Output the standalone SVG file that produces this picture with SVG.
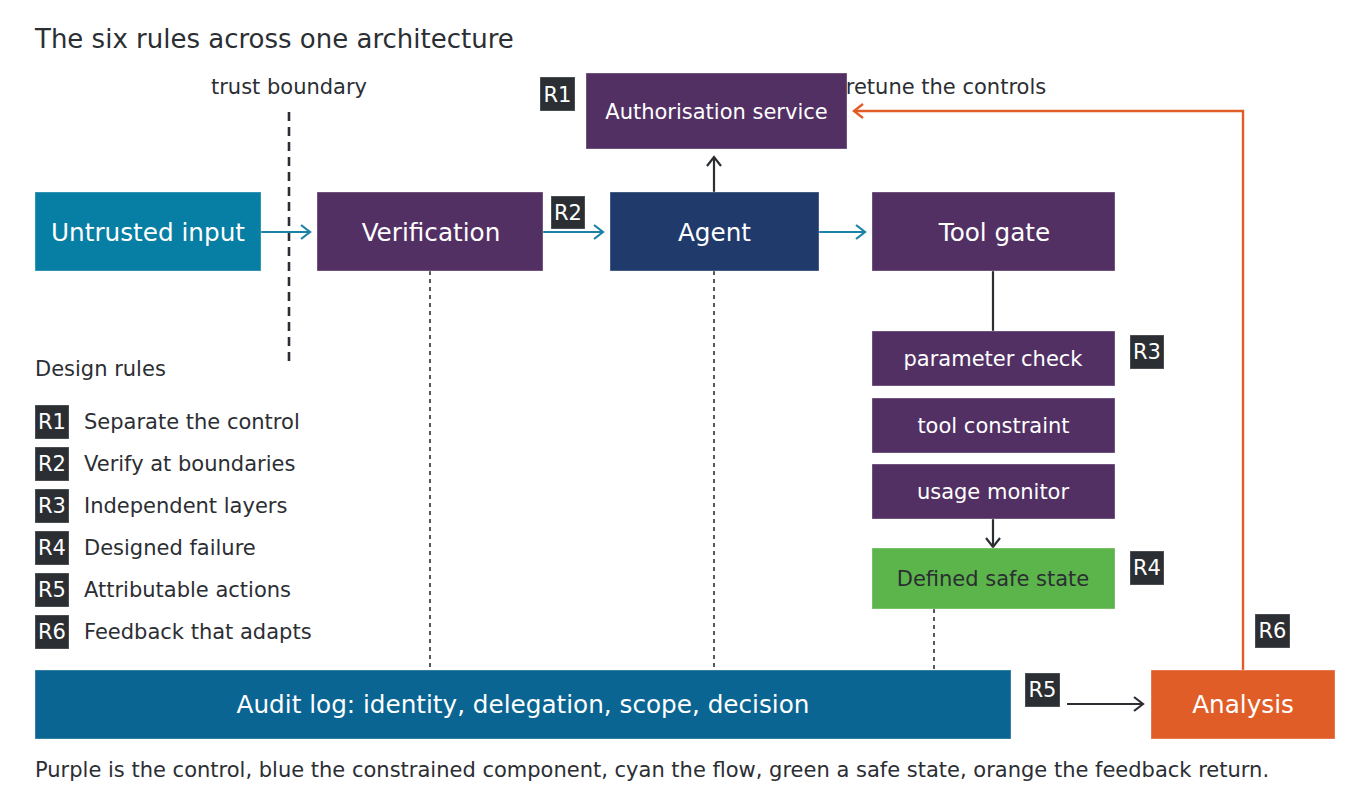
<svg xmlns="http://www.w3.org/2000/svg" width="1360" height="806" viewBox="0 0 1360 806">
<style>
text{font-family:"DejaVu Sans","Liberation Sans",sans-serif;}
.t{fill:#2b2e33;font-size:21px;}
.title{fill:#2b2e33;font-size:26px;}
.nl{fill:#ffffff;font-size:24.7px;text-anchor:middle;}
.ns{fill:#ffffff;font-size:21px;text-anchor:middle;}
.bt{fill:#ffffff;font-size:21px;text-anchor:middle;}
.badge{fill:#2b2e33;stroke:#ffffff;stroke-opacity:0.3;stroke-width:1;}
.box{stroke:#ffffff;stroke-opacity:0.35;stroke-width:1;}
.purple{fill:#523063;}
.flow{stroke:#1a82a6;stroke-width:2.2;fill:none;}
.dark{stroke:#2b2e33;stroke-width:2.2;fill:none;}
.dot{stroke:#2b2e33;stroke-width:1.6;stroke-dasharray:4 4;fill:none;}
.fb{stroke:#e05d28;stroke-width:2.4;fill:none;}
</style>
<defs>
<marker id="aC" markerUnits="userSpaceOnUse" markerWidth="14" markerHeight="18" refX="11" refY="9" orient="auto"><path d="M2,2 L11,9 L2,16" fill="none" stroke="#1a82a6" stroke-width="2.2"/></marker>
<marker id="aD" markerUnits="userSpaceOnUse" markerWidth="14" markerHeight="18" refX="11" refY="9" orient="auto"><path d="M2,2 L11,9 L2,16" fill="none" stroke="#2b2e33" stroke-width="2.2"/></marker>
<marker id="aO" markerUnits="userSpaceOnUse" markerWidth="14" markerHeight="18" refX="11" refY="9" orient="auto"><path d="M2,2 L11,9 L2,16" fill="none" stroke="#e05d28" stroke-width="2.4"/></marker>
</defs>
<rect width="1360" height="806" fill="#ffffff"/>
<text class="title" x="35" y="48">The six rules across one architecture</text>
<text class="t" x="289" y="94" text-anchor="middle">trust boundary</text>
<text class="t" x="946" y="94" text-anchor="middle">retune the controls</text>

<g id="connectors">
<line x1="289" y1="112" x2="289" y2="366" stroke="#2b2e33" stroke-width="2.6" stroke-dasharray="9 6"/>
<line class="flow" x1="261" y1="232" x2="310" y2="232" marker-end="url(#aC)"/>
<line class="flow" x1="543" y1="232" x2="603" y2="232" marker-end="url(#aC)"/>
<line class="flow" x1="819" y1="232" x2="865" y2="232" marker-end="url(#aC)"/>
<line class="dark" x1="714" y1="192" x2="714" y2="157" marker-end="url(#aD)"/>
<line class="dark" x1="993" y1="271" x2="993" y2="331"/>
<line class="dark" x1="993" y1="519" x2="993" y2="547" marker-end="url(#aD)"/>
<line class="dot" x1="430" y1="271" x2="430" y2="670"/>
<line class="dot" x1="714" y1="271" x2="714" y2="670"/>
<line class="dot" x1="934" y1="609" x2="934" y2="670"/>
<line class="dark" x1="1067" y1="704" x2="1143" y2="704" marker-end="url(#aD)"/>
<polyline class="fb" points="1243,670 1243,111 854,111" marker-end="url(#aO)"/>
</g>

<g id="node-auth">
<rect class="box purple" x="586" y="73" width="261" height="76"/>
<text class="ns" x="716.5" y="118.5">Authorisation service</text>
</g>
<g id="badge-r1-auth"><rect class="badge" x="540" y="77" width="35" height="34"/><text class="bt" x="557.5" y="101.5">R1</text></g>

<g id="node-untrusted">
<rect class="box" fill="#077ea3" x="35" y="192" width="226" height="79"/>
<text class="nl" x="148" y="240.5">Untrusted input</text>
</g>
<g id="node-verification">
<rect class="box purple" x="317" y="192" width="226" height="79"/>
<text class="nl" x="431" y="240.5">Verification</text>
</g>
<g id="badge-r2"><rect class="badge" x="551" y="196" width="34" height="33"/><text class="bt" x="568" y="220">R2</text></g>
<g id="node-agent">
<rect class="box" fill="#1f3a6b" x="610" y="192" width="209" height="79"/>
<text class="nl" x="714.5" y="240.5">Agent</text>
</g>
<g id="node-toolgate">
<rect class="box purple" x="872" y="192" width="243" height="79"/>
<text class="nl" x="994.5" y="240.5">Tool gate</text>
</g>

<g id="node-param">
<rect class="box purple" x="872" y="331" width="243" height="55"/>
<text class="ns" x="993" y="366">parameter check</text>
</g>
<g id="badge-r3"><rect class="badge" x="1130" y="335" width="34" height="34"/><text class="bt" x="1147" y="359">R3</text></g>
<g id="node-toolconstraint">
<rect class="box purple" x="872" y="398" width="243" height="55"/>
<text class="ns" x="993.5" y="433">tool constraint</text>
</g>
<g id="node-usage">
<rect class="box purple" x="872" y="464" width="243" height="55"/>
<text class="ns" x="993" y="499">usage monitor</text>
</g>
<g id="node-safe">
<rect class="box" fill="#5cb54a" x="872" y="548" width="243" height="61"/>
<text class="ns" x="993" y="586" style="fill:#2b2e33">Defined safe state</text>
</g>
<g id="badge-r4"><rect class="badge" x="1130" y="551" width="34" height="34"/><text class="bt" x="1147" y="575">R4</text></g>

<g id="node-audit">
<rect class="box" fill="#0a6592" x="35" y="670" width="976" height="69"/>
<text class="nl" x="523" y="713">Audit log: identity, delegation, scope, decision</text>
</g>
<g id="badge-r5"><rect class="badge" x="1025" y="673" width="35" height="34"/><text class="bt" x="1042.5" y="697">R5</text></g>
<g id="node-analysis">
<rect class="box" fill="#e05d28" x="1151" y="670" width="184" height="69"/>
<text class="nl" x="1243" y="713">Analysis</text>
</g>
<g id="badge-r6"><rect class="badge" x="1255" y="614" width="35" height="34"/><text class="bt" x="1272.5" y="638">R6</text></g>

<g id="legend">
<text class="t" x="35" y="376">Design rules</text>
<rect class="badge" x="35" y="405" width="34" height="34"/><text class="bt" x="52" y="429">R1</text>
<text class="t" x="84" y="429">Separate the control</text>
<rect class="badge" x="35" y="447" width="34" height="34"/><text class="bt" x="52" y="471">R2</text>
<text class="t" x="84" y="471">Verify at boundaries</text>
<rect class="badge" x="35" y="489" width="34" height="34"/><text class="bt" x="52" y="513">R3</text>
<text class="t" x="84" y="513">Independent layers</text>
<rect class="badge" x="35" y="531" width="34" height="34"/><text class="bt" x="52" y="555">R4</text>
<text class="t" x="84" y="555">Designed failure</text>
<rect class="badge" x="35" y="573" width="34" height="34"/><text class="bt" x="52" y="597">R5</text>
<text class="t" x="84" y="597">Attributable actions</text>
<rect class="badge" x="35" y="615" width="34" height="34"/><text class="bt" x="52" y="639">R6</text>
<text class="t" x="84" y="639">Feedback that adapts</text>
</g>

<text class="t" x="35" y="777">Purple is the control, blue the constrained component, cyan the flow, green a safe state, orange the feedback return.</text>
</svg>
